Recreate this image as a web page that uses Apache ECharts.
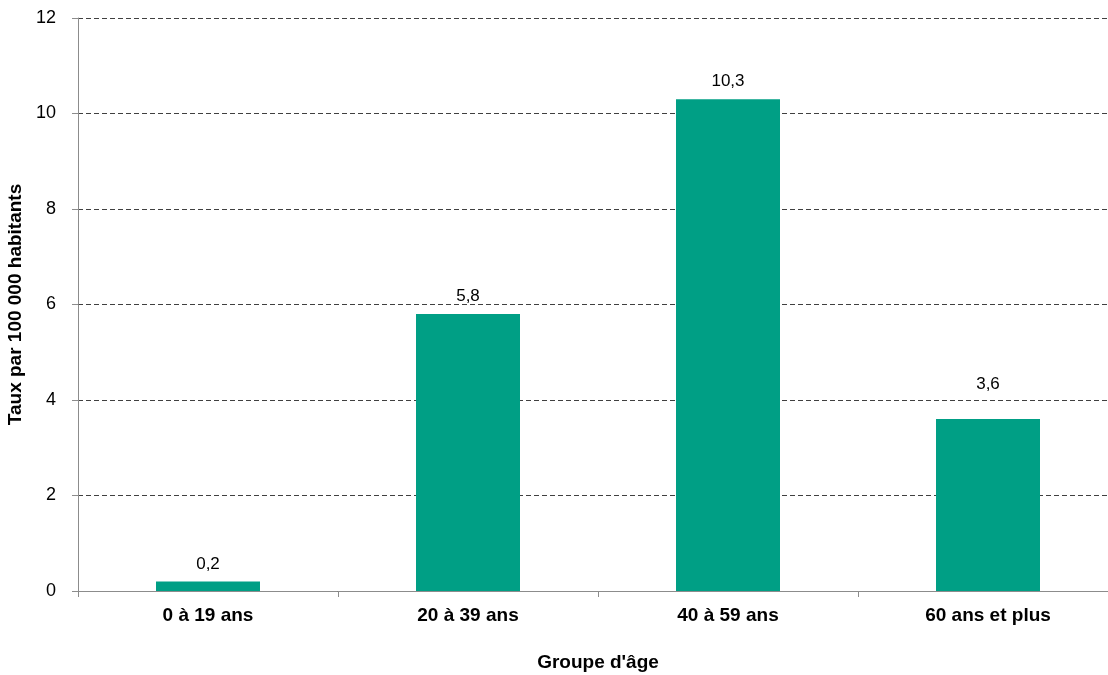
<!DOCTYPE html>
<html>
<head>
<meta charset="utf-8">
<script src="https://cdn.jsdelivr.net/npm/echarts@6/dist/echarts.min.js"></script>
<style>
html,body{margin:0;padding:0;background:#fff;overflow:hidden;}
/* the plot area runs slightly past the right edge of the window */
#chart{width:1118px;height:675px;}
</style>
</head>
<body>
<div id="chart"></div>
<script>
// Taux par 100 000 habitants selon le groupe d'âge
const categories = ['0 à 19 ans', '20 à 39 ans', '40 à 59 ans', '60 ans et plus'];
const rates = [0.2, 5.8, 10.3, 3.6];

const chart = echarts.init(document.getElementById('chart'));
const font = 'Liberation Sans, Arial, sans-serif';

// the last label is lifted clear of the dashed line at 4
const barData = rates.map((v, i) =>
  i === 3 ? { value: v, label: { distance: 26 } } : v
);

chart.setOption({
  animation: false,
  grid: { left: 78, right: 0, top: 18, bottom: 84, outerBoundsMode: 'none' },
  xAxis: {
    type: 'category',
    data: categories,
    name: "Groupe d'âge",
    nameLocation: 'middle',
    nameGap: 62,
    nameTextStyle: { fontFamily: font, fontSize: 19, fontWeight: 'bold', color: '#000' },
    axisLine: { lineStyle: { color: '#8c8c8c', width: 1 } },
    axisTick: { show: true, length: 6, lineStyle: { color: '#8c8c8c' } },
    axisLabel: { fontFamily: font, fontSize: 19, fontWeight: 'bold', color: '#000', margin: 15 }
  },
  yAxis: {
    type: 'value',
    min: 0, max: 12, interval: 2,
    name: 'Taux par 100 000 habitants',
    nameLocation: 'middle',
    nameGap: 47,
    nameRotate: 90,
    nameTextStyle: { fontFamily: font, fontSize: 19, fontWeight: 'bold', color: '#000' },
    axisLine: { show: true, lineStyle: { color: '#8c8c8c', width: 1 } },
    axisTick: { show: true, length: 6, lineStyle: { color: '#8c8c8c' } },
    axisLabel: { fontFamily: font, fontSize: 18, color: '#000', margin: 22 },
    splitLine: { show: true, lineStyle: { color: '#404040', type: [5, 3], width: 1 } }
  },
  series: [{
    type: 'bar',
    data: barData,
    barWidth: '40%',
    itemStyle: { color: '#009F85' },
    label: {
      show: true,
      position: 'top',
      distance: 9,
      fontFamily: font,
      fontSize: 17,
      color: '#000',
      formatter: p => String(p.value).replace('.', ',')
    }
  }]
});
</script>
</body>
</html>
